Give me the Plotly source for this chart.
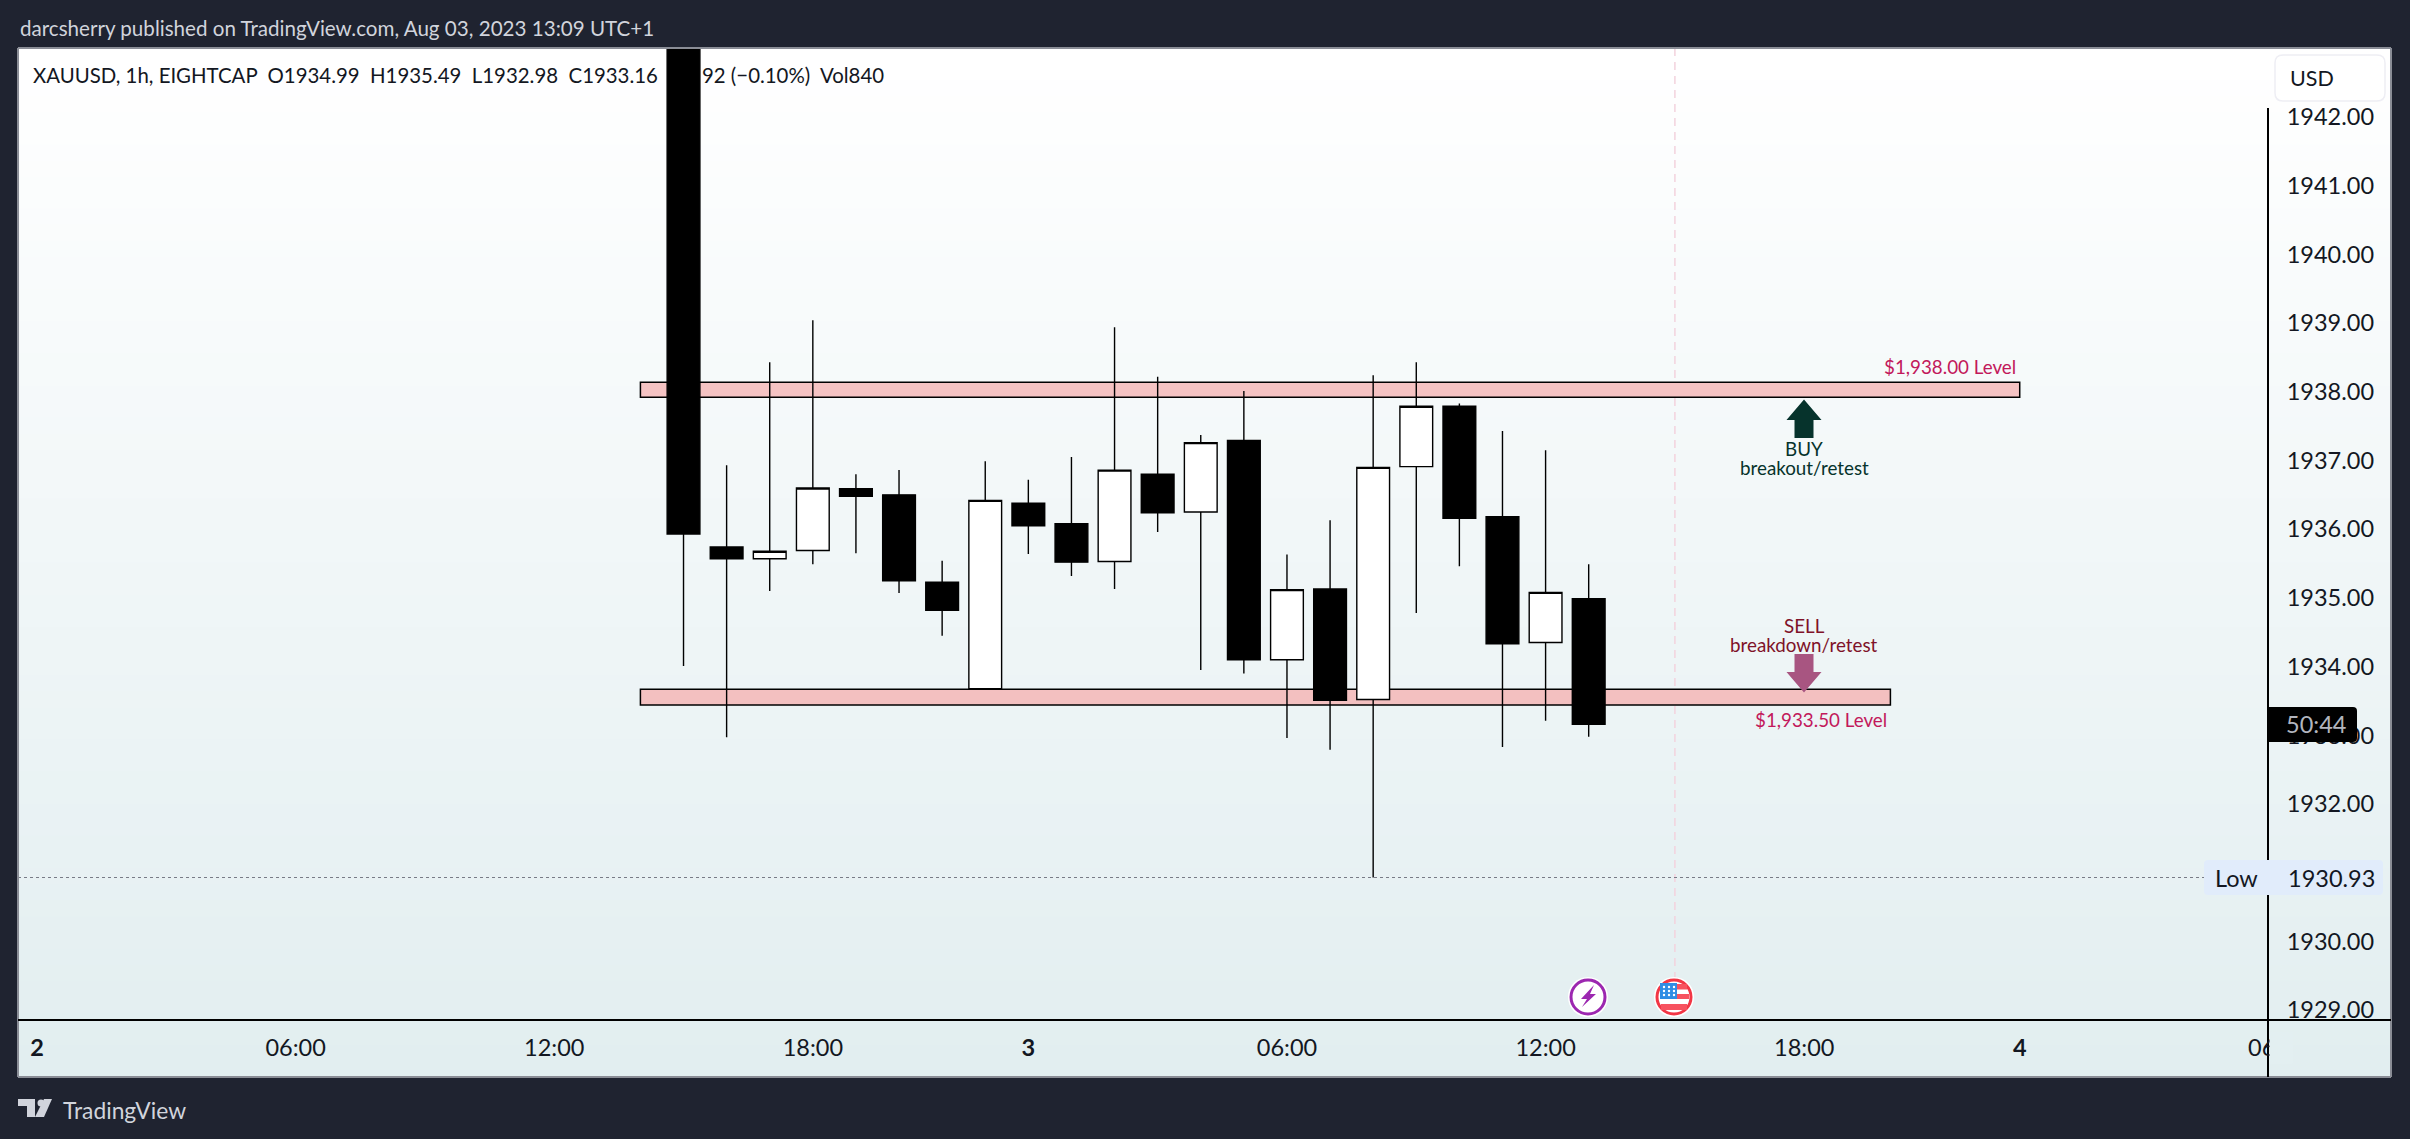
import plotly.graph_objects as go

# bar index: TradingView spaces bars evenly, 0 = Aug 2 00:00, market is shut for the 23:00 bar
bars = list(range(15, 37))
opens = [1946.00, 1935.74, 1935.57, 1935.69, 1936.59, 1936.50, 1935.23, 1933.68, 1936.38, 1936.08, 1935.53,
         1936.80, 1936.25, 1937.29, 1934.10, 1935.13, 1933.52, 1936.91, 1937.79, 1936.18, 1934.35, 1934.99]
highs = [1946.50, 1936.93, 1938.43, 1939.04, 1936.80, 1936.86, 1935.54, 1936.99, 1936.72, 1937.05, 1938.94,
         1938.22, 1937.37, 1938.01, 1935.63, 1936.13, 1938.24, 1938.43, 1937.83, 1937.43, 1937.15, 1935.49]
lows = [1934.01, 1932.97, 1935.10, 1935.49, 1935.65, 1935.07, 1934.45, 1933.68, 1935.64, 1935.32, 1935.13,
        1935.96, 1933.95, 1933.90, 1932.96, 1932.79, 1930.93, 1934.78, 1935.46, 1932.83, 1933.21, 1932.98]
closes = [1935.93, 1935.57, 1935.68, 1936.60, 1936.48, 1935.25, 1934.82, 1936.42, 1936.05, 1935.52, 1936.86,
          1936.24, 1937.26, 1934.10, 1935.12, 1933.51, 1936.90, 1937.79, 1936.16, 1934.33, 1935.08, 1933.16]

time_ticks = [0, 6, 12, 18, 23, 29, 35, 41, 46]
time_labels = ['<b>2</b>', '06:00', '12:00', '18:00', '<b>3</b>', '06:00', '12:00', '18:00', '<b>4</b>']
# 1931 sits behind the Low tag in the reference
price_ticks = [1929, 1930, 1932, 1933, 1934, 1935, 1936, 1937, 1938, 1939, 1940, 1941, 1942]

upper_level = (1937.92, 1938.14)
lower_level = (1933.44, 1933.67)
low_price = 1930.93

WIDTH, HEIGHT = 2410, 1139
LEFT, RIGHT, TOP, BOTTOM = 18, 2268, 48, 1020
FONT = 'Lato'
INK = '#131722'
DARK = '#1f2330'


def px(x):
    return (x - LEFT) / (RIGHT - LEFT)


def py(y):
    return (BOTTOM - y) / (BOTTOM - TOP)


def paper_rect(x0, y0, x1, y1, **kw):
    return dict(type='rect', xref='paper', yref='paper', x0=px(x0), y0=py(y0), x1=px(x1), y1=py(y1), **kw)


def paper_line(x0, y0, x1, y1, color='black', width=2, **kw):
    return dict(type='line', xref='paper', yref='paper', x0=px(x0), y0=py(y0), x1=px(x1), y1=py(y1),
                line=dict(color=color, width=width), layer='above', **kw)


def paper_path(points, fill, line=None):
    d = 'M ' + ' L '.join(f'{px(x):.5f},{py(y):.5f}' for x, y in points) + ' Z'
    return dict(type='path', xref='paper', yref='paper', path=d, fillcolor=fill,
                line=dict(width=0) if line is None else line, layer='above')


def rounded(x0, y0, x1, y1, r, fill, line_color=None, corners='all'):
    rl = 0 if corners == 'right' else r
    d = (f'M {px(x0 + rl):.5f},{py(y0):.5f} L {px(x1 - r):.5f},{py(y0):.5f} '
         f'Q {px(x1):.5f},{py(y0):.5f} {px(x1):.5f},{py(y0 + r):.5f} L {px(x1):.5f},{py(y1 - r):.5f} '
         f'Q {px(x1):.5f},{py(y1):.5f} {px(x1 - r):.5f},{py(y1):.5f} L {px(x0 + rl):.5f},{py(y1):.5f} '
         f'Q {px(x0):.5f},{py(y1):.5f} {px(x0):.5f},{py(y1 - rl):.5f} L {px(x0):.5f},{py(y0 + rl):.5f} '
         f'Q {px(x0):.5f},{py(y0):.5f} {px(x0 + rl):.5f},{py(y0):.5f} Z')
    line = dict(width=0) if line_color is None else dict(color=line_color, width=1.5)
    return dict(type='path', xref='paper', yref='paper', path=d, fillcolor=fill, line=line, layer='above')


def circle(cx, cy, r, fill, line_color=None, width=0):
    return dict(type='circle', xref='paper', yref='paper', x0=px(cx - r), y0=py(cy + r), x1=px(cx + r), y1=py(cy - r),
                fillcolor=fill, line=dict(color=line_color or fill, width=width), layer='above')


def label(x, y, text, size=20.4, color=INK, anchor='center', font=FONT):
    return dict(xref='paper', yref='paper', x=px(x), y=py(y), text=text, showarrow=False, xanchor=anchor,
                yanchor='middle', align=anchor, font=dict(family=font, size=size, color=color))


fig = go.Figure()
fig.add_trace(go.Candlestick(
    x=bars, open=opens, high=highs, low=lows, close=closes, whiskerwidth=0, showlegend=False, hoverinfo='skip',
    increasing=dict(fillcolor='white', line=dict(color='black', width=1.4)),
    decreasing=dict(fillcolor='black', line=dict(color='black', width=1.4)),
))

shapes = []
# panel background: white at the top fading to pale teal
strips = 64
for i in range(strips):
    t = i / (strips - 1)
    y0 = TOP + (1077 - TOP) * i / strips
    y1 = TOP + (1077 - TOP) * (i + 1) / strips + 1
    col = f'rgb({round(255 - 29 * t)},{round(255 - 17 * t)},{round(255 - 15 * t)})'
    shapes.append(paper_rect(LEFT, y0, 2391, y1, fillcolor=col, line=dict(width=0), layer='below'))

# support / resistance boxes sit under the candles
shapes.append(dict(type='rect', xref='x', yref='y', x0=14, x1=46, y0=upper_level[0], y1=upper_level[1],
                   fillcolor='#f5c3c3', line=dict(color='black', width=1.5), layer='below'))
shapes.append(dict(type='rect', xref='x', yref='y', x0=14, x1=43, y0=lower_level[0], y1=lower_level[1],
                   fillcolor='#f3c0c0', line=dict(color='black', width=1.5), layer='below'))
# session line
shapes.append(dict(type='line', xref='x', yref='paper', x0=38, x1=38, y0=py(980), y1=1,
                   line=dict(color='#f3d3dd', width=1.5, dash='8px,6px'), layer='below'))
# low marker
shapes.append(dict(type='line', xref='paper', yref='y', x0=0, x1=px(2204), y0=low_price, y1=low_price,
                   line=dict(color='#787b86', width=1, dash='dot'), layer='below'))

# frame and axis lines
shapes.append(paper_line(18, 48, 2391, 48, color='#8a8d96', width=2))
shapes.append(paper_line(18, 48, 18, 1077, color='#8a8d96', width=2))
shapes.append(paper_line(2391, 48, 2391, 1077, color='#8a8d96', width=2))
shapes.append(paper_line(18, 1077, 2391, 1077, color='#8a8d96', width=2))
shapes.append(paper_line(18, 1020, 2391, 1020))
shapes.append(paper_line(2268, 108, 2268, 1077))

# USD button, low tag, countdown tag
shapes.append(rounded(2275, 55, 2385, 101, 8, '#ffffff', '#eeeef4'))
shapes.append(rounded(2204, 860, 2383, 895, 4, '#e1ecfb'))
shapes.append(rounded(2268, 707, 2357, 742, 4, '#000000', corners='right'))

# buy and sell arrows
shapes.append(paper_path([(1804, 399.5), (1821.5, 420), (1813.5, 420), (1813.5, 438), (1794.5, 438), (1794.5, 420),
                          (1786.5, 420)], '#06332c'))
shapes.append(paper_path([(1794.5, 654), (1813.5, 654), (1813.5, 672), (1821.5, 672), (1804, 692.5), (1786.5, 672),
                          (1794.5, 672)], '#a85581'))

# lightning icon on the last bar
shapes.append(circle(1588, 997, 20, '#ffffff'))
shapes.append(circle(1588, 997, 17, '#ffffff', '#9c27b0', 3))
shapes.append(paper_path([(1594, 985), (1581, 999), (1587, 999), (1582, 1007), (1596, 994), (1590, 994)], '#9c27b0'))

# US flag icon
shapes.append(circle(1674, 997, 20, '#ffffff'))
shapes.append(circle(1674, 997, 17, '#ffffff', '#f23645', 3))
shapes.append(paper_rect(1662, 984, 1687, 989.5, fillcolor='#f7525f', line=dict(width=0), layer='above'))
shapes.append(paper_rect(1662, 994, 1689, 999, fillcolor='#f7525f', line=dict(width=0), layer='above'))
shapes.append(paper_rect(1661, 1004, 1687, 1010, fillcolor='#f7525f', line=dict(width=0), layer='above'))
shapes.append(paper_rect(1660, 983, 1677, 999, fillcolor='#2f8de4', line=dict(width=0), layer='above'))
for sx in (1664, 1669, 1674):
    for sy in (987, 991, 995):
        shapes.append(circle(sx, sy, 1.2, '#ffffff'))

# TradingView logo
shapes.append(paper_path([(18, 1099), (35, 1099), (35, 1117), (27, 1117), (27, 1106), (18, 1106)], '#d1d4dc'))
shapes.append(circle(41, 1103, 3.5, '#d1d4dc'))
shapes.append(paper_path([(44, 1099), (52, 1099), (44, 1117), (35, 1117)], '#d1d4dc'))

annotations = [
    label(18, 28, 'darcsherry published on TradingView.com, Aug 03, 2023 13:09 UTC+1', size=20.6, color='#d1d4dc', anchor='left'),
    label(31, 75, 'XAUUSD, 1h, EIGHTCAP&nbsp;&nbsp;O1934.99&nbsp;&nbsp;H1935.49&nbsp;&nbsp;L1932.98&nbsp;&nbsp;C1933.16', anchor='left'),
    label(700, 75, '92 (−0.10%)&nbsp;&nbsp;Vol840', anchor='left'),
    label(2312, 78, 'USD', size=21.5),
    label(2236, 878, 'Low', size=23.5),
    label(2286, 877.5, '1930.93', size=23.5, anchor='left'),
    label(2316, 724, '50:44', size=23.5, color='#b2b5be'),
    # the label is cut off by the price scale
    label(2246, 1047, '06', size=23.5, anchor='left'),
    dict(xref='paper', yref='paper', x=px(2269), y=py(1048), text=' ', showarrow=False, xanchor='left', yanchor='middle',
         width=22, height=30, bgcolor='#e3eff1', borderpad=0),
    label(2018, 366, '$1,938.00 Level', size=18.8, color='#c2185b', anchor='right'),
    label(1889.5, 719, '$1,933.50 Level', size=18.8, color='#c2185b', anchor='right'),
    label(1804, 448.7, 'BUY', size=18.8, color='#06332c'),
    label(1804, 467.8, 'breakout/retest', size=18.8, color='#06332c'),
    label(1804, 625.5, 'SELL', size=18.8, color='#7f1229'),
    label(1804, 644, 'breakdown/retest', size=18.8, color='#7f1229'),
    label(61, 1110, 'TradingView', size=22.8, color='#d1d4dc', anchor='left'),
]

fig.update_layout(
    width=WIDTH, height=HEIGHT, autosize=False,
    margin=dict(l=LEFT, r=WIDTH - RIGHT, t=TOP, b=HEIGHT - BOTTOM, pad=0),
    paper_bgcolor=DARK, plot_bgcolor='rgba(0,0,0,0)',
    boxgap=0.24, boxgroupgap=0,
    shapes=shapes, annotations=annotations,
    font=dict(family=FONT, size=23.5, color=INK),
    xaxis=dict(range=[-0.44, 51.76], tickmode='array', tickvals=time_ticks, ticktext=time_labels,
               showgrid=False, zeroline=False, showline=False, ticks='outside', ticklen=7,
               tickcolor='rgba(0,0,0,0)', rangeslider=dict(visible=False), tickangle=0),
    yaxis=dict(range=[1928.856, 1943.004], side='right', tickmode='array', tickvals=price_ticks,
               tickformat='.2f', showgrid=False, zeroline=False, showline=False, ticks='outside', ticklen=13,
               tickcolor='rgba(0,0,0,0)'),
)

fig.write_html("out.html", config=dict(displayModeBar=False),
               post_script="document.body.style.margin='0';document.body.style.overflow='hidden';")
